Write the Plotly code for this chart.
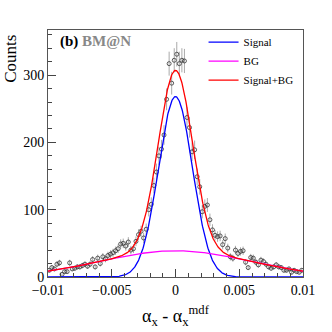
import numpy as np
import plotly.graph_objects as go

# bin centres (units of 1e-4) and counts
bin_u = list(range(-99, 100, 2))
counts = [10, 14, 12, 19, 21, 4, 8, 8, 21, 12,
          13, 15, 15, 17, 19, 16, 19, 26, 15, 28,
          20, 30, 27, 32, 34, 36, 39, 42, 49, 50,
          46, 52, 40, 42, 53, 63, 68, 58, 71, 100,
          108, 136, 156, 180, 190, 211, 264, 317, 288, 322,
          331, 317, 322, 321, 237, 222, 186, 189, 149, 134,
          97, 105, 107, 85, 70, 62, 60, 61, 48, 57,
          43, 30, 28, 40, 35, 38, 39, 22, 14, 29,
          28, 22, 18, 25, 23, 19, 15, 13, 15, 18,
          15, 14, 10, 10, 12, 7, 10, 8, 7, 10]

# fit parameters (signal gaussian + broad background)
sig_amp, sig_width = 268.0, 0.00133
bg_amp, bg_width = 39.0, 0.0058

x = np.array(bin_u) * 1e-4
y = np.array(counts)

xf = np.linspace(-0.01, 0.01, 600)
sig = sig_amp * np.exp(-xf**2 / (2 * sig_width**2))
bg = bg_amp * np.exp(-xf**2 / (2 * bg_width**2))

serif = "Liberation Serif, Times New Roman, Times, serif"

fig = go.Figure()
fig.add_trace(go.Scatter(x=x, y=y, mode="markers", showlegend=False,
                         marker=dict(symbol="circle-open", size=4, color="#333", line=dict(width=0.8)),
                         error_y=dict(type="data", array=np.sqrt(y), color="#aaa", thickness=1, width=0)))
fig.add_trace(go.Scatter(x=xf, y=sig, mode="lines", name="Signal", line=dict(color="#0000ff", width=1.3)))
fig.add_trace(go.Scatter(x=xf, y=bg, mode="lines", name="BG", line=dict(color="#ff00ff", width=1.3)))
fig.add_trace(go.Scatter(x=xf, y=sig + bg, mode="lines", name="Signal+BG", line=dict(color="#ff0000", width=1.3)))

fig.add_annotation(xref="paper", yref="paper", x=0.041, y=0.955, xanchor="left", yanchor="middle",
                   text="<b>(b)</b> <b><span style='color:#888'>BM@N</span></b>", showarrow=False,
                   font=dict(size=15, color="black", family=serif))
# y title sits at the top end of the axis, ROOT style
fig.add_annotation(xref="paper", yref="paper", x=-0.148, y=0.99, xanchor="center", yanchor="top",
                   text="Counts", textangle=-90, showarrow=False,
                   font=dict(size=17, color="black", family=serif))

fig.update_layout(
    width=332, height=332,
    margin=dict(l=48, r=29, t=30, b=55),
    paper_bgcolor="white", plot_bgcolor="white",
    font=dict(family=serif, color="black"),
    legend=dict(x=0.61, y=1.01, xanchor="left", yanchor="top", bgcolor="rgba(0,0,0,0)",
                font=dict(size=11, family=serif), tracegroupgap=0),
)
fig.update_xaxes(range=[-0.01, 0.01], dtick=0.005, tick0=0, ticks="inside", ticklen=8,
                 tickcolor="#444", showgrid=False, zeroline=False, automargin=False,
                 showline=True, linecolor="#555", mirror=True, tickfont=dict(size=14, family=serif),
                 minor=dict(dtick=0.001, ticks="inside", ticklen=4, tickcolor="#444"),
                 title=dict(text="α<sub>x</sub> - α<sub>x</sub><sup>mdf</sup>",
                            font=dict(size=18, family=serif), standoff=12))
fig.update_yaxes(range=[0, 367], dtick=100, ticks="inside", ticklen=8, tickcolor="#444",
                 showgrid=False, zeroline=False, showline=True, linecolor="#555", mirror=True,
                 automargin=False, tickfont=dict(size=14, family=serif),
                 minor=dict(dtick=20, ticks="inside", ticklen=4, tickcolor="#444"))

# drop the page's default body margin so the figure sits at the window corner
fig.write_html("out.html", config={"displayModeBar": False},
               post_script="document.body.style.margin='0';document.body.style.overflow='hidden';")
